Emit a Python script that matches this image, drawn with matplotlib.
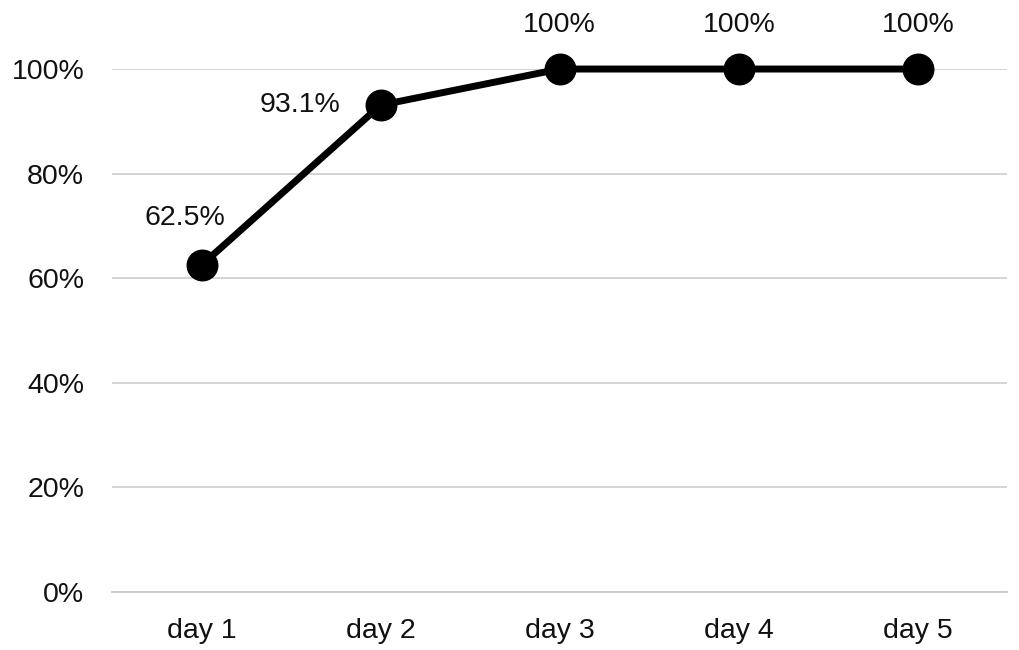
import matplotlib.pyplot as plt

days = ['day 1', 'day 2', 'day 3', 'day 4', 'day 5']
values = [62.5, 93.1, 100, 100, 100]
labels = ['62.5%', '93.1%', '100%', '100%', '100%']
yticks = [0, 20, 40, 60, 80, 100]

plt.rcParams['font.family'] = ['Liberation Sans', 'DejaVu Sans']

fig = plt.figure(figsize=(10.2, 6.5), dpi=100)
ax = fig.add_axes([0.1098, 0.0892, 0.8779, 0.8046])

x = list(range(len(days)))
ax.plot(x, values, color='black', linewidth=5, marker='o', markersize=22,
        clip_on=False, zorder=3)

# label offsets in points (Excel-like placement)
offsets = [(-12, 34), (-58, 0), (0, 32), (0, 32), (0, 32)]
for xi, v, lab, off in zip(x, values, labels, offsets):
    ax.annotate(lab, (xi, v), xytext=off, textcoords='offset points',
                ha='center', va='center', fontsize=20.5, color='#111111')

ax.set_xlim(-0.5, 4.5)
ax.set_ylim(0, 100)
ax.set_xticks(x)
ax.set_xticklabels(days)
ax.set_yticks(yticks)
ax.set_yticklabels([f'{t}%' for t in yticks])
ax.tick_params(axis='both', length=0, labelsize=20.5, colors='#111111')
ax.tick_params(axis='y', pad=20)
ax.tick_params(axis='x', pad=19)

ax.yaxis.grid(True, color='#d0d0d0', linewidth=1.3)
ax.set_axisbelow(True)
for s in ['top', 'right', 'left']:
    ax.spines[s].set_visible(False)
ax.spines['bottom'].set_color('#c8c8c8')
ax.spines['bottom'].set_linewidth(1.3)

fig.savefig('out.png', dpi=100)
